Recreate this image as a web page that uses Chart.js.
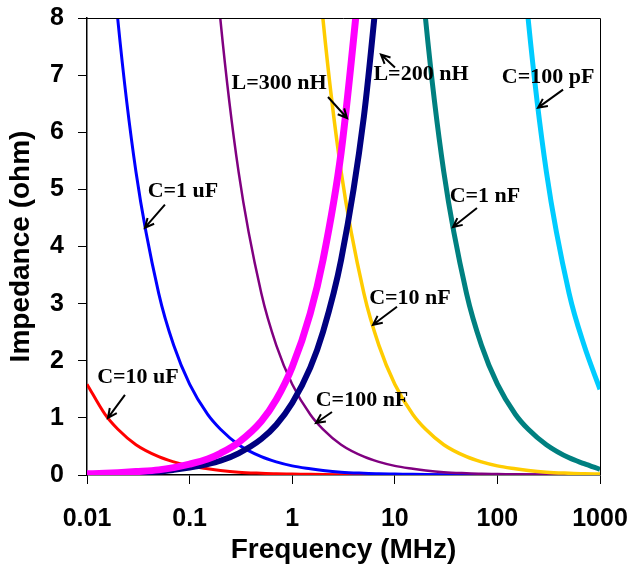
<!DOCTYPE html>
<html lang="en">
<head>
    <meta charset="UTF-8">
    <title>Impedance vs Frequency</title>
    <script src="https://cdn.jsdelivr.net/npm/chart.js"></script>
    <style>
        body { margin: 0; background: #fff; }
        .chart-box { width: 630px; height: 566px; }
    </style>
</head>
<body>
    <div class="chart-box">
        <canvas id="zChart" width="630" height="566"></canvas>
    </div>

    <script>
        // Frequency points (MHz) and impedance (ohm)
        const freq = [0.01, 0.015, 0.02, 0.03, 0.05, 0.07, 0.1, 0.15, 0.2, 0.3, 0.5, 0.7,
                      1, 1.5, 2, 3, 5, 7, 10, 15, 20, 30, 50, 70, 100, 150, 200, 300, 500, 700, 1000];

        const c10u = [1.59, 1.06, 0.80, 0.53, 0.32, 0.23, 0.16, 0.11, 0.08, 0.05, 0.03, 0.02,
                      0.016, 0.011, 0.008, 0.005, 0.003, 0.002, 0.002, 0.001, 0.001, 0.001, 0, 0, 0, 0, 0, 0, 0, 0, 0];
        const c1u = [null, 10.6, 7.96, 5.31, 3.18, 2.27, 1.59, 1.06, 0.80, 0.53, 0.32, 0.23,
                     0.16, 0.11, 0.08, 0.05, 0.03, 0.02, 0.016, 0.011, 0.008, 0.005, 0.003, 0.002, 0.002, 0.001, 0.001, 0.001, 0, 0, 0];
        const c100n = [null, null, null, null, null, null, null, 10.6, 7.96, 5.31, 3.18, 2.27,
                       1.59, 1.06, 0.80, 0.53, 0.32, 0.23, 0.16, 0.11, 0.08, 0.05, 0.03, 0.02, 0.016, 0.011, 0.008, 0.005, 0.003, 0.002, 0.002];
        const c10n = [null, null, null, null, null, null, null, null, null, null, null, null,
                      null, 10.6, 7.96, 5.31, 3.18, 2.27, 1.59, 1.06, 0.80, 0.53, 0.32, 0.23, 0.16, 0.11, 0.08, 0.05, 0.03, 0.02, 0.016];
        const c1n = [null, null, null, null, null, null, null, null, null, null, null, null,
                     null, null, null, null, null, null, null, 10.6, 7.96, 5.31, 3.18, 2.27, 1.59, 1.06, 0.80, 0.53, 0.3, 0.2, 0.1];
        const c100p = [null, null, null, null, null, null, null, null, null, null, null, null,
                       null, null, null, null, null, null, null, null, null, null, null, null, null, 10.6, 7.96, 5.31, 3.18, 2.27, 1.5];
        const l300n = [0.02, 0.03, 0.04, 0.06, 0.09, 0.13, 0.19, 0.28, 0.38, 0.57, 0.94, 1.32,
                       1.89, 2.83, 3.77, 5.65, 9.42, null, null, null, null, null, null, null, null, null, null, null, null, null, null];
        const l200n = [0.01, 0.02, 0.03, 0.04, 0.06, 0.09, 0.13, 0.19, 0.25, 0.38, 0.63, 0.88,
                       1.26, 1.88, 2.51, 3.77, 6.28, 8.80, null, null, null, null, null, null, null, null, null, null, null, null, null];

        const xTicks = [0.01, 0.1, 1, 10, 100, 1000];
        const xTickLabels = ['0.01', '0.1', '1', '10', '100', '1000'];
        const yTicks = [0, 1, 2, 3, 4, 5, 6, 7, 8];

        // callouts: tip on the curve (data units), tail and text offsets in px from the tip
        const callouts = [
            { text: 'C=10 uF',  f: 0.016, z: 1.0,  tail: [17, -23], label: [30, -41] },
            { text: 'C=1 uF',   f: 0.0367, z: 4.33, tail: [20, -23], label: [38, -36] },
            { text: 'L=300 nH', f: 3.42,  z: 6.25, tail: [-19, -21], label: [-68, -35] },
            { text: 'L=200 nH', f: 7.33,  z: 7.36, tail: [14, 13],  label: [40, 20] },
            { text: 'C=100 pF', f: 249,   z: 6.43, tail: [25, -18], label: [10, -30] },
            { text: 'C=1 nF',   f: 36.9,  z: 4.34, tail: [24, -19], label: [32, -31] },
            { text: 'C=10 nF',  f: 6.13,  z: 2.63, tail: [24, -18], label: [37, -26] },
            { text: 'C=100 nF', f: 1.706, z: 0.91, tail: [16, -11], label: [46, -23] }
        ];

        function pts(values) {
            return freq.map((f, i) => ({ x: f, y: values[i] }));
        }

        function line(values, color, width) {
            return {
                data: pts(values),
                borderColor: color,
                borderWidth: width,
                pointRadius: 0,
                fill: false,
                cubicInterpolationMode: 'monotone'
            };
        }

        // first dataset ends up on top
        const datasets = [
            line(l300n, '#FF00FF', 7),
            line(l200n, '#000080', 6),
            line(c100p, '#00CCFF', 5),
            line(c1n, '#008080', 5),
            line(c10n, '#FFCC00', 3.5),
            line(c100n, '#800080', 2.5),
            line(c1u, '#0000FF', 3),
            line(c10u, '#FF0000', 3)
        ];

        const frameAndCallouts = {
            id: 'frameAndCallouts',
            afterDraw(chart) {
                const c = chart.ctx;
                const a = chart.chartArea;
                const xs = chart.scales.x, ys = chart.scales.y;
                c.save();
                c.strokeStyle = '#000';
                c.lineWidth = 1;
                c.beginPath();
                c.moveTo(a.left, a.top + 0.5);
                c.lineTo(a.right + 0.5, a.top + 0.5);
                c.lineTo(a.right + 0.5, a.bottom);
                c.stroke();

                c.font = 'bold 22px "Liberation Serif", "Times New Roman", serif';
                c.textAlign = 'center';
                c.textBaseline = 'middle';
                c.fillStyle = '#000';
                c.lineWidth = 2;
                callouts.forEach(o => {
                    const tx = xs.getPixelForValue(o.f);
                    const ty = ys.getPixelForValue(o.z);
                    const sx = tx + o.tail[0], sy = ty + o.tail[1];
                    const ang = Math.atan2(ty - sy, tx - sx);
                    const h = 10;
                    c.beginPath();
                    c.moveTo(sx, sy);
                    c.lineTo(tx, ty);
                    c.moveTo(tx - h * Math.cos(ang - 0.45), ty - h * Math.sin(ang - 0.45));
                    c.lineTo(tx, ty);
                    c.lineTo(tx - h * Math.cos(ang + 0.45), ty - h * Math.sin(ang + 0.45));
                    c.stroke();
                    c.fillText(o.text, tx + o.label[0], ty + o.label[1]);
                });
                c.restore();
            }
        };

        const axisFont = { family: 'Liberation Sans, Arial, sans-serif', size: 25, weight: 'bold' };
        const titleFont = { family: 'Liberation Sans, Arial, sans-serif', size: 28, weight: 'bold' };

        new Chart(document.getElementById('zChart'), {
            type: 'line',
            data: { datasets },
            plugins: [frameAndCallouts],
            options: {
                responsive: false,
                animation: false,
                layout: { padding: { top: 18, right: 30, left: 0, bottom: 0 } },
                plugins: { legend: { display: false }, tooltip: { enabled: false } },
                scales: {
                    x: {
                        type: 'logarithmic',
                        min: 0.01,
                        max: 1000,
                        afterBuildTicks(scale) {
                            scale.ticks = xTicks.map(v => ({ value: v }));
                        },
                        afterFit(scale) {
                            scale.height = 91;
                            scale.paddingLeft = 0;
                            scale.paddingRight = 0;
                        },
                        ticks: {
                            color: '#000',
                            font: axisFont,
                            padding: 20,
                            maxRotation: 0,
                            autoSkip: false,
                            callback: (v) => {
                                const i = xTicks.indexOf(v);
                                return i >= 0 ? xTickLabels[i] : '';
                            }
                        },
                        grid: { drawOnChartArea: false, color: '#000', tickLength: 9 },
                        border: { color: '#000', width: 1.5 },
                        title: {
                            display: true,
                            text: 'Frequency (MHz)',
                            color: '#000',
                            font: titleFont,
                            padding: { top: 0, bottom: -1 }
                        }
                    },
                    y: {
                        min: 0,
                        max: 8,
                        afterBuildTicks(scale) {
                            scale.ticks = yTicks.map(v => ({ value: v }));
                        },
                        afterFit(scale) {
                            scale.width = 87;
                            scale.paddingTop = 0;
                            scale.paddingBottom = 0;
                        },
                        ticks: { color: '#000', font: axisFont, padding: 14 },
                        grid: { drawOnChartArea: false, color: '#000', tickLength: 9 },
                        border: { color: '#000', width: 1.5 },
                        title: {
                            display: true,
                            text: 'Impedance (ohm)',
                            color: '#000',
                            font: titleFont,
                            padding: { top: 4, bottom: 0 }
                        }
                    }
                }
            }
        });
    </script>
</body>
</html>
